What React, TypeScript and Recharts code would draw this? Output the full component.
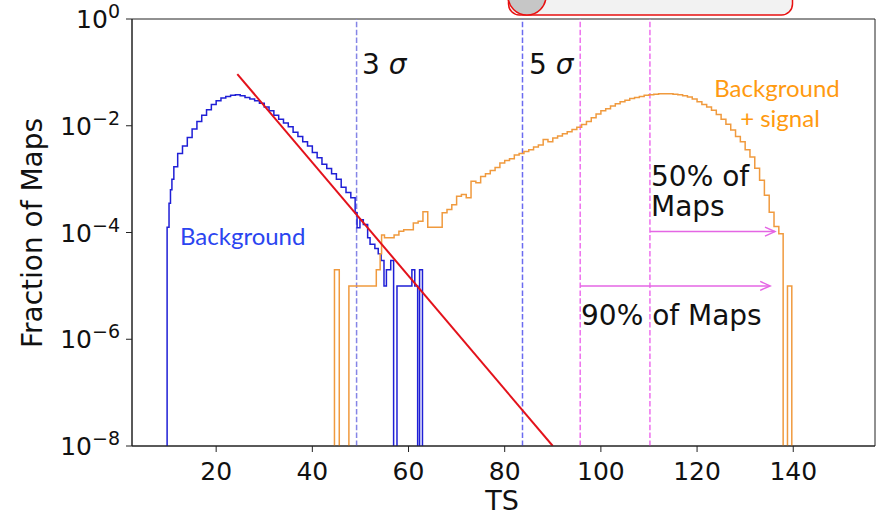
import React from 'react';
import { LineChart, Line, XAxis, YAxis, ReferenceLine, ReferenceArea } from 'recharts';

// zero bins are pushed far below the visible log range so they get clipped
const FLOOR = 1e-12;

// background only: lower bin edge (TS) and fraction of maps, last edge closes the histogram
const bgEdges = [
  9.8, 10.2, 10.5, 10.8, 11.2, 12, 13, 14, 15, 16, 17, 18, 19, 20, 21, 22, 23, 24, 25, 26, 27, 28, 29, 30,
  31, 32, 33, 34, 35, 36, 37, 38, 39, 40, 41, 42, 43, 44, 45, 46, 47, 48, 48.9, 49.3, 49.9, 50.6, 51.5,
  52, 53, 53.7, 54.3, 54.9, 55.4, 56.3, 56.9, 57.6, 60.7, 61.3, 61.9, 62.3, 62.9,
];
const bgFrac = [
  1.26e-4, 3.55e-4, 6.31e-4, 1.0e-3, 1.7e-3, 3.02e-3, 4.17e-3, 6.03e-3, 8.71e-3, 1.2e-2, 1.58e-2, 2.0e-2,
  2.51e-2, 2.95e-2, 3.31e-2, 3.55e-2, 3.72e-2, 3.8e-2, 3.63e-2, 3.39e-2, 3.16e-2, 2.95e-2, 2.63e-2, 2.24e-2,
  1.91e-2, 1.58e-2, 1.32e-2, 1.12e-2, 9.55e-3, 7.59e-3, 6.31e-3, 5.01e-3, 4.17e-3, 3.16e-3, 2.51e-3, 1.91e-3,
  1.58e-3, 1.26e-3, 1.0e-3, 7.08e-4, 5.62e-4, 4.47e-4, 2.34e-4, 1.23e-4, 1.74e-4, 1.41e-4, 8e-5, 6e-5, 5e-5,
  4e-5, 3e-5, 1e-5, 2e-5, 3e-5, 0, 1e-5, 2e-5, 1e-5, 0, 2e-5, 0,
];

// background + signal
const sigEdges = [
  44.6, 45.6, 47.6, 53.3, 54.1, 54.4, 55, 56, 57, 58, 59, 60, 61, 62, 63, 64, 65, 66, 67, 68, 69, 70, 71, 72,
  73, 74, 75, 76, 77, 78, 79, 80, 81, 82, 83, 84, 85, 86, 87, 88, 89, 90, 91, 92, 93, 94, 95, 96, 97, 98, 99,
  100, 101, 102, 103, 104, 105, 106, 107, 108, 109, 110, 111, 112, 113, 114, 115, 116, 117, 118, 119, 120,
  121, 122, 123, 124, 125, 126, 127, 128, 129, 130, 131, 132, 133, 134, 135, 136, 137, 137.9, 138.8, 139.7,
];
const sigFrac = [
  2e-5, 0, 1e-5, 2e-5, 4e-5, 9e-5, 8e-5, 8e-5, 9e-5, 1.05e-4, 1.12e-4, 1.12e-4, 1.51e-4, 1.62e-4, 2.45e-4,
  1.26e-4, 1.26e-4, 1.26e-4, 2.34e-4, 2.69e-4, 3.31e-4, 4.79e-4, 5.13e-4, 4.47e-4, 9.12e-4, 8.51e-4,
  1.12e-3, 1.26e-3, 1.45e-3, 1.66e-3, 2.0e-3, 2.24e-3, 2.4e-3, 2.82e-3, 3.02e-3, 3.31e-3, 3.55e-3, 3.98e-3,
  4.37e-3, 5.5e-3, 5.01e-3, 5.89e-3, 6.46e-3, 7.08e-3, 7.76e-3, 8.51e-3, 9.33e-3, 1.05e-2, 1.2e-2, 1.41e-2,
  1.66e-2, 1.91e-2, 2.09e-2, 2.34e-2, 2.57e-2, 2.82e-2, 3.02e-2, 3.24e-2, 3.39e-2, 3.55e-2, 3.72e-2, 3.8e-2,
  3.89e-2, 3.98e-2, 3.98e-2, 3.98e-2, 3.89e-2, 3.8e-2, 3.63e-2, 3.47e-2, 3.16e-2, 2.82e-2, 2.51e-2, 2.24e-2,
  1.95e-2, 1.62e-2, 1.32e-2, 1.07e-2, 8.32e-3, 6.31e-3, 5.01e-3, 3.55e-3, 2.6e-3, 1.6e-3, 9.5e-4, 5e-4,
  2.4e-4, 1.3e-4, 9.5e-5, 0, 1e-5, 0,
];

// exponential tail fit (straight line in log space)
const fitTS = [24.4, 90];
const fitFrac = [0.093, 1e-8];

const sigmaLines = [49.2, 83.7]; // 3 sigma, 5 sigma
const mapLines = [95.7, 110.2]; // 90% of maps, 50% of maps
const arrow90 = { from: 95.7, to: 135.2, y: 1e-5 };
const arrow50 = { from: 110.2, to: 136.2, y: 1.04e-4 };

const xTicks = [20, 40, 60, 80, 100, 120, 140];
const yTicks = [1, 1e-2, 1e-4, 1e-6, 1e-8];

const FONT = '"DejaVu Sans", sans-serif';
const CALLOUT = 'Lato, "Open Sans", sans-serif';

const toSteps = (edges: number[], frac: number[]) => [
  { ts: edges[0], v: FLOOR },
  ...edges.map((e, i) => ({ ts: e, v: frac[i] > 0 ? frac[i] : FLOOR })),
];

const bgData = toSteps(bgEdges, bgFrac);
const sigData = toSteps(sigEdges, sigFrac);
const fitData = fitTS.map((t, i) => ({ ts: t, v: fitFrac[i] }));

const YTick = (props: any) => {
  const { x, y, payload } = props;
  const exp = Math.round(Math.log10(payload.value));
  return (
    <text x={x - 4} y={y + 9} textAnchor="end" fontSize={25} fill="#111" fontFamily={FONT}>
      10
      <tspan dy={-10} fontSize={19}>
        {exp === 0 ? '0' : '\u2212' + Math.abs(exp)}
      </tspan>
    </text>
  );
};

const Arrow = (props: any) => {
  const { x1, y1, x2, y2 } = props;
  const c = '#e466e4';
  return (
    <g>
      <line x1={x1} y1={y1} x2={x2} y2={y2} stroke={c} strokeWidth={1.5} />
      <polyline
        points={`${x2 - 10},${y2 - 4.5} ${x2},${y2} ${x2 - 10},${y2 + 4.5}`}
        fill="none"
        stroke={c}
        strokeWidth={1.5}
      />
    </g>
  );
};

export default function App() {
  return (
    <div style={{ position: 'absolute', left: 0, top: 0, width: 877, height: 516, background: '#fff', overflow: 'hidden' }}>
      <LineChart width={877} height={516} margin={{ top: 19, right: 2, bottom: 0, left: 0 }}>
        <XAxis
          dataKey="ts"
          type="number"
          domain={[2.5, 157]}
          allowDataOverflow
          ticks={xTicks}
          tickSize={6}
          tickMargin={10}
          height={70}
          stroke="#222"
          tick={{ fontSize: 25, fill: '#111', fontFamily: FONT }}
        />
        <YAxis
          scale="log"
          type="number"
          domain={[1e-8, 1]}
          allowDataOverflow
          ticks={yTicks}
          tickSize={6}
          width={132}
          stroke="#222"
          tick={<YTick />}
        />
        <ReferenceArea x1={2.5} x2={157} y1={1e-8} y2={1} fill="none" stroke="#222" strokeWidth={1} />
        <ReferenceLine x={sigmaLines[0]} stroke="#8585e6" strokeWidth={1.5} strokeDasharray="5.5 2.4" />
        <ReferenceLine x={sigmaLines[1]} stroke="#6b6bf0" strokeWidth={1.5} strokeDasharray="5.5 2.4" />
        <ReferenceLine x={mapLines[0]} stroke="#ee70ee" strokeWidth={1.5} strokeDasharray="5.5 2.4" />
        <ReferenceLine x={mapLines[1]} stroke="#ee70ee" strokeWidth={1.5} strokeDasharray="5.5 2.4" />
        <Line
          data={bgData}
          dataKey="v"
          type="stepAfter"
          stroke="#1f1fd6"
          strokeWidth={1.5}
          dot={false}
          isAnimationActive={false}
        />
        <Line
          data={sigData}
          dataKey="v"
          type="stepAfter"
          stroke="#f09a3e"
          strokeWidth={1.5}
          dot={false}
          isAnimationActive={false}
        />
        <Line
          data={fitData}
          dataKey="v"
          type="linear"
          stroke="#e3121b"
          strokeWidth={2}
          dot={false}
          isAnimationActive={false}
        />
        <ReferenceLine
          segment={[
            { x: arrow50.from, y: arrow50.y },
            { x: arrow50.to, y: arrow50.y },
          ]}
          shape={Arrow}
        />
        <ReferenceLine
          segment={[
            { x: arrow90.from, y: arrow90.y },
            { x: arrow90.to, y: arrow90.y },
          ]}
          shape={Arrow}
        />
      </LineChart>
      <svg
        width={877}
        height={516}
        style={{ position: 'absolute', left: 0, top: 0, pointerEvents: 'none' }}
      >
        <rect x={508.5} y={-20} width={284} height={35} rx={11} fill="#f2f2f2" stroke="#e81010" strokeWidth={1.5} />
        <circle cx={527} cy={-4} r={19} fill="#c6c6c6" stroke="#e81010" strokeWidth={1.5} />
        <g fontFamily={FONT} fontSize={28} fill="#111">
          <text x={362} y={74}>
            3 <tspan fontStyle="italic">σ</tspan>
          </text>
          <text x={529} y={74}>
            5 <tspan fontStyle="italic">σ</tspan>
          </text>
          <text x={651} y={186}>50% of</text>
          <text x={651} y={216}>Maps</text>
          <text x={581} y={325}>90% of Maps</text>
          <text x={502} y={510} fontSize={27} textAnchor="middle">TS</text>
          <text x={42} y={233} textAnchor="middle" transform="rotate(-90, 42, 233)">
            Fraction of Maps
          </text>
        </g>
        <g fontFamily={CALLOUT} fontSize={24}>
          <text x={180} y={245} fill="#2b45f0">Background</text>
          <text x={777} y={97} fill="#ff9a10" textAnchor="middle">Background</text>
          <text x={780} y={127} fill="#ff9a10" textAnchor="middle">+ signal</text>
        </g>
      </svg>
    </div>
  );
}
